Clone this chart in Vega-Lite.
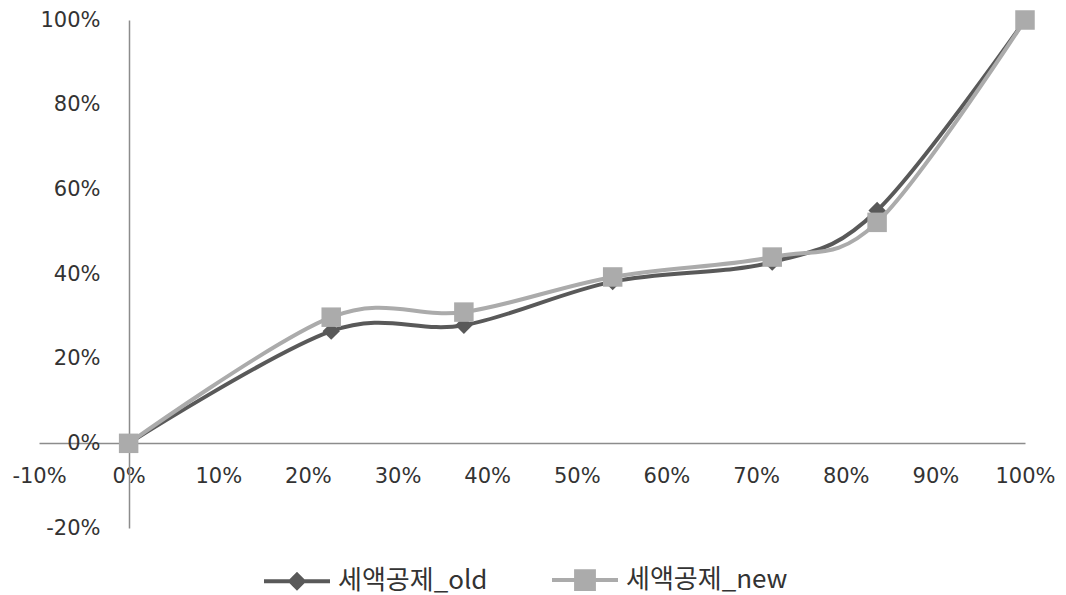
{
  "$schema": "https://vega.github.io/schema/vega-lite/v6.json",
  "autosize": "none",
  "width": 986,
  "height": 508,
  "padding": {"left": 39, "top": 20, "right": 41, "bottom": 67},
  "background": "white",
  "config": {
    "view": {"stroke": null},
    "axis": {"labelFont": "DejaVu Sans", "labelFontSize": 21, "labelColor": "#333333", "grid": false, "ticks": false, "domainColor": "#8c8c8c", "domainWidth": 1.5, "title": null}
  },
  "data": {
    "values": [
      {"x": 0, "y": 0, "series": "세액공제_old"},
      {"x": 0.226, "y": 0.265, "series": "세액공제_old"},
      {"x": 0.374, "y": 0.279, "series": "세액공제_old"},
      {"x": 0.54, "y": 0.382, "series": "세액공제_old"},
      {"x": 0.718, "y": 0.428, "series": "세액공제_old"},
      {"x": 0.835, "y": 0.55, "series": "세액공제_old"},
      {"x": 1, "y": 1, "series": "세액공제_old"},
      {"x": 0, "y": 0, "series": "세액공제_new"},
      {"x": 0.226, "y": 0.298, "series": "세액공제_new"},
      {"x": 0.374, "y": 0.31, "series": "세액공제_new"},
      {"x": 0.54, "y": 0.393, "series": "세액공제_new"},
      {"x": 0.718, "y": 0.44, "series": "세액공제_new"},
      {"x": 0.835, "y": 0.522, "series": "세액공제_new"},
      {"x": 1, "y": 1, "series": "세액공제_new"}
    ]
  },
  "encoding": {
    "x": {"field": "x", "type": "quantitative", "scale": {"domain": [-0.1, 1], "nice": false, "zero": false},
      "axis": {"orient": "bottom", "offset": -85, "format": ".0%", "labelExpr": "replace(datum.label, '\u2212', '-')", "values": [-0.1, 0, 0.1, 0.2, 0.3, 0.4, 0.5, 0.6, 0.7, 0.8, 0.9, 1], "labelPadding": 22, "labelFlush": false, "labelOverlap": false}},
    "y": {"field": "y", "type": "quantitative", "scale": {"domain": [-0.2, 1], "nice": false, "zero": false},
      "axis": {"orient": "left", "offset": -90, "format": ".0%", "labelExpr": "replace(datum.label, '\u2212', '-')", "values": [-0.2, 0, 0.2, 0.4, 0.6, 0.8, 1], "labelPadding": 29, "labelFlush": false, "labelOverlap": false}},
    "color": {"field": "series", "type": "nominal",
      "scale": {"domain": ["세액공제_old", "세액공제_new"], "range": ["#595959", "#ababab"]},
      "legend": {"orient": "none", "legendX": 223, "legendY": 525, "direction": "horizontal", "title": null,
        "symbolSize": 4356, "symbolStrokeWidth": 4, "columnPadding": 56, "labelOffset": 6, "labelLimit": 400,
        "labelFont": "Noto Sans CJK KR", "labelFontSize": 26, "labelColor": "#333333", "symbolOpacity": 1}
    }
  },
  "layer": [
    {"mark": {"type": "line", "interpolate": "cardinal", "strokeWidth": 4}},
    {"transform": [{"filter": "datum.series === '세액공제_old'"}],
      "mark": {"type": "point", "filled": true, "opacity": 1, "shape": "diamond", "size": 300}},
    {"transform": [{"filter": "datum.series === '세액공제_new'"}],
      "mark": {"type": "point", "filled": true, "opacity": 1, "shape": "square", "size": 380}},
    {"transform": [{"filter": "false"}],
      "mark": {"type": "point", "filled": true, "opacity": 1},
      "encoding": {
        "stroke": {"field": "series", "type": "nominal", "scale": {"domain": ["세액공제_old", "세액공제_new"], "range": ["#595959", "#ababab"]}},
        "shape": {"field": "series", "type": "nominal", "scale": {"domain": ["세액공제_old", "세액공제_new"], "range": ["M-1,0H1M0,-0.2L0.2,0L0,0.2L-0.2,0Z", "M-1,0H1M-0.27,-0.27H0.27V0.27H-0.27Z"]}}
      }}
  ]
}
